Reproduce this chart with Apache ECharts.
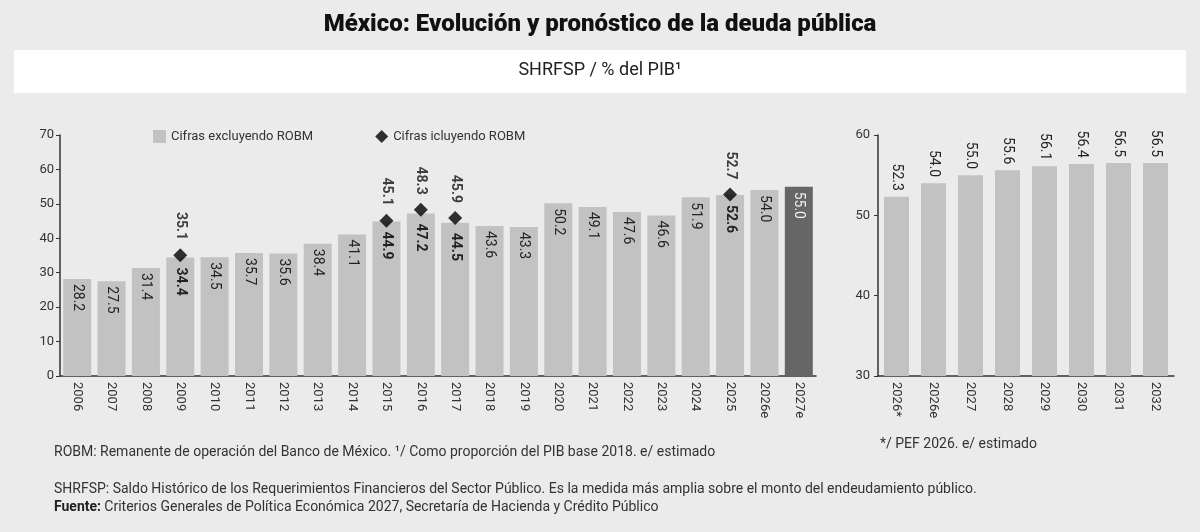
<!DOCTYPE html>
<html><head><meta charset="utf-8">
<script src="https://cdn.jsdelivr.net/npm/echarts@6/dist/echarts.min.js"></script>
<style>html,body{margin:0;padding:0;background:#ebebeb}#c{width:1200px;height:532px}</style>
</head><body><div id="c"></div>
<script>
const years = ['2006','2007','2008','2009','2010','2011','2012','2013','2014','2015','2016','2017','2018','2019','2020','2021','2022','2023','2024','2025','2026e','2027e'];
const excl = [28.2,27.5,31.4,34.4,34.5,35.7,35.6,38.4,41.1,44.9,47.2,44.5,43.6,43.3,50.2,49.1,47.6,46.6,51.9,52.6,54.0,55.0];
const incl = [null,null,null,35.1,null,null,null,null,null,45.1,48.3,45.9,null,null,null,null,null,null,null,52.7,null,null];
const years2 = ['2026*','2026e','2027','2028','2029','2030','2031','2032'];
const proj = [52.3,54.0,55.0,55.6,56.1,56.4,56.5,56.5];

const F = 'Roboto, "Noto Sans", sans-serif';
const axisLbl = {color:'#333', fontSize:13, fontFamily:F};
const chart = echarts.init(document.getElementById('c'));
chart.setOption({
  backgroundColor:'#ebebeb',
  animation:false,
  textStyle:{fontFamily:F},
  graphic:[
    {type:'rect', shape:{x:14,y:50,width:1172,height:43}, style:{fill:'#ffffff'}},
    {type:'text', left:'center', top:13, style:{text:'México: Evolución y pronóstico de la deuda pública', font:'900 24px '+F, fill:'#111'}},
    {type:'text', left:'center', top:61, style:{text:'SHRFSP / % del PIB¹', font:'18px '+F, fill:'#222'}},
    {type:'text', left:54, top:445, style:{text:'ROBM: Remanente de operación del Banco de México. ¹/ Como proporción del PIB base 2018. e/ estimado', font:'14px '+F, fill:'#333'}},
    {type:'text', left:880, top:437, style:{text:'*/ PEF 2026. e/ estimado', font:'14px '+F, fill:'#333'}},
    {type:'text', left:54, top:482, style:{text:'SHRFSP: Saldo Histórico de los Requerimientos Financieros del Sector Público. Es la medida más amplia sobre el monto del endeudamiento público.', font:'14px '+F, fill:'#333'}},
    {type:'text', left:54, top:500, style:{rich:{b:{font:'bold 14px '+F, fill:'#222'}, n:{font:'14px '+F, fill:'#333'}}, text:'{b|Fuente:} {n|Criterios Generales de Política Económica 2027, Secretaría de Hacienda y Crédito Público}'}}
  ],
  legend:{left:148, top:125, itemGap:62, itemWidth:13, itemHeight:13,
    textStyle:{fontSize:13, color:'#333', fontFamily:F},
    data:[{name:'Cifras excluyendo ROBM', icon:'rect', itemStyle:{color:'#c2c2c2'}},
          {name:'Cifras icluyendo ROBM', icon:'diamond', itemStyle:{color:'#000'}}]},
  grid:[
    {left:60, top:135, width:756, height:241, containLabel:false},
    {left:878, top:135, width:296, height:241, containLabel:false}
  ],
  xAxis:[
    {type:'category', gridIndex:0, data:years, axisTick:{show:false},
     axisLine:{lineStyle:{color:'#333', width:1.5}},
     axisLabel:Object.assign({rotate:-90, interval:0, align:'left', verticalAlign:'middle', margin:6}, axisLbl)},
    {type:'category', gridIndex:1, data:years2, axisTick:{show:false},
     axisLine:{lineStyle:{color:'#333', width:1.5}},
     axisLabel:Object.assign({rotate:-90, interval:0, align:'left', verticalAlign:'middle', margin:6}, axisLbl)}
  ],
  yAxis:[
    {type:'value', gridIndex:0, min:0, max:70, interval:10, splitLine:{show:false},
     axisLine:{show:true, lineStyle:{color:'#333', width:1.5}}, axisTick:{show:true, length:4, lineStyle:{color:'#333'}},
     axisLabel:Object.assign({margin:6}, axisLbl)},
    {type:'value', gridIndex:1, min:30, max:60, interval:10, splitLine:{show:false},
     axisLine:{show:true, lineStyle:{color:'#333', width:1.5}}, axisTick:{show:true, length:4, lineStyle:{color:'#333'}},
     axisLabel:Object.assign({margin:8}, axisLbl)}
  ],
  series:[
    {name:'Cifras excluyendo ROBM', type:'bar', xAxisIndex:0, yAxisIndex:0, barWidth:28,
     data: excl.map((v,i)=>({value:v,
        itemStyle:{color: i===excl.length-1 ? '#666666' : '#c2c2c2'},
        label:{fontWeight: incl[i]!=null ? 'bold':'normal', color: i===excl.length-1 ? '#f2f2f2' : '#222',
               distance: incl[i]!=null ? 10 : 5}})),
     label:{show:true, position:'insideTop', rotate:-90, align:'left', verticalAlign:'middle', fontSize:14, fontFamily:F, color:'#222', formatter:p=>p.value.toFixed(1)}},
    {name:'Cifras icluyendo ROBM', type:'scatter', xAxisIndex:0, yAxisIndex:0, symbol:'diamond', symbolSize:14, z:5,
     itemStyle:{color:'#000'}, data:incl,
     label:{show:true, position:'top', distance:8, rotate:-90, align:'right', verticalAlign:'middle', fontSize:14, fontWeight:'bold', color:'#111', fontFamily:F, formatter:p=>p.value.toFixed(1)}},
    {type:'bar', xAxisIndex:1, yAxisIndex:1, barWidth:25, itemStyle:{color:'#c2c2c2'}, data:proj,
     label:{show:true, position:'top', distance:6, rotate:-90, align:'right', verticalAlign:'middle', fontSize:14, color:'#222', fontFamily:F, formatter:p=>p.value.toFixed(1)}}
  ]
});
</script></body></html>
